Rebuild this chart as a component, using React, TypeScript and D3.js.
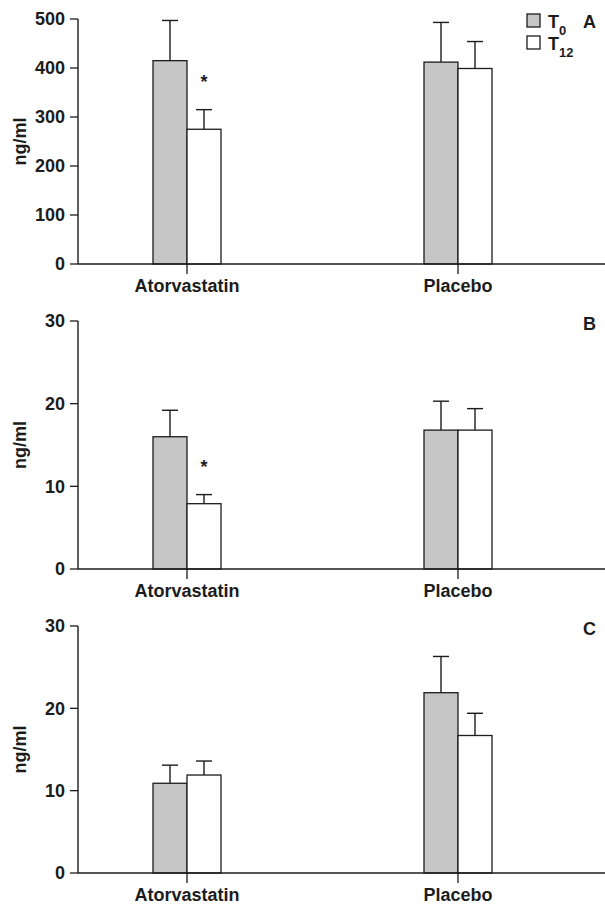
import React, { useEffect, useRef } from "react";
import * as d3 from "d3";

// Data
const categories = ["Atorvastatin", "Placebo"];
const seriesNames = ["T0", "T12"];

const panelLetters = ["A", "B", "C"];
const panelMax = [500, 30, 30];
const panelTicks = [
  [0, 100, 200, 300, 400, 500],
  [0, 10, 20, 30],
  [0, 10, 20, 30],
];

// means per panel: [T0 values by category], [T12 values by category]
const meansT0 = [
  [415, 412],
  [16, 16.8],
  [10.9, 21.9],
];
const meansT12 = [
  [275, 399],
  [7.9, 16.8],
  [11.9, 16.7],
];
const errT0 = [
  [82, 81],
  [3.2, 3.5],
  [2.2, 4.4],
];
const errT12 = [
  [40, 55],
  [1.1, 2.6],
  [1.7, 2.7],
];
// asterisk over Atorvastatin T12 in A and B
const significant = [
  ["Atorvastatin"],
  ["Atorvastatin"],
  [],
];

const WIDTH = 605;
const HEIGHT = 906;
const FONT = "'Liberation Sans', Arial, Helvetica, sans-serif";
const INK = "#1c1c1c";
const GREY = "#c5c6c5";
const fills: Record<string, string> = { T0: GREY, T12: "#ffffff" };

const panelTop = [19, 321, 626];
const panelBottom = [264, 569, 873];
const AXIS_X = 78;

const App = () => {
  const ref = useRef<SVGSVGElement | null>(null);

  useEffect(() => {
    const svg = d3.select(ref.current);
    svg.selectAll("*").remove();

    const x = d3.scalePoint<string>().domain(categories).range([187, 458]);
    const xs = d3.scaleBand<string>().domain(seriesNames).range([-34, 34]).padding(0);

    panelLetters.forEach((letter, p) => {
      const top = panelTop[p];
      const bottom = panelBottom[p];
      const y = d3.scaleLinear().domain([0, panelMax[p]]).range([bottom, top]);
      const g = svg.append("g");

      const rows = categories.flatMap((c, i) => [
        { cat: c, s: "T0", v: meansT0[p][i], e: errT0[p][i] },
        { cat: c, s: "T12", v: meansT12[p][i], e: errT12[p][i] },
      ]);

      // error bars (behind bars)
      const eb = g.append("g").attr("stroke", INK).attr("stroke-width", 1.4);
      rows.forEach(d => {
        const cx = (x(d.cat) as number) + (xs(d.s) as number) + xs.bandwidth() / 2;
        eb.append("line")
          .attr("x1", cx).attr("x2", cx)
          .attr("y1", y(d.v)).attr("y2", y(d.v + d.e));
        eb.append("line")
          .attr("x1", cx - 8).attr("x2", cx + 8)
          .attr("y1", y(d.v + d.e)).attr("y2", y(d.v + d.e));
      });

      // bars
      g.append("g")
        .selectAll("rect")
        .data(rows)
        .join("rect")
        .attr("x", d => (x(d.cat) as number) + (xs(d.s) as number))
        .attr("y", d => y(d.v))
        .attr("width", xs.bandwidth())
        .attr("height", d => bottom - y(d.v))
        .attr("fill", d => fills[d.s])
        .attr("stroke", INK)
        .attr("stroke-width", 1.3);

      // asterisks
      rows
        .filter(d => d.s === "T12" && significant[p].includes(d.cat))
        .forEach(d => {
          const cx = (x(d.cat) as number) + (xs(d.s) as number) + xs.bandwidth() / 2;
          g.append("text")
            .attr("x", cx)
            .attr("y", y(d.v + d.e) - 22)
            .attr("text-anchor", "middle")
            .attr("font-family", FONT)
            .attr("font-weight", "bold")
            .attr("font-size", 18)
            .attr("fill", INK)
            .text("*");
        });

      // x axis line across to the right edge
      g.append("line")
        .attr("x1", AXIS_X).attr("x2", WIDTH)
        .attr("y1", bottom).attr("y2", bottom)
        .attr("stroke", INK).attr("stroke-width", 1.4);

      categories.forEach(c => {
        g.append("line")
          .attr("x1", x(c) as number).attr("x2", x(c) as number)
          .attr("y1", bottom).attr("y2", bottom + 10)
          .attr("stroke", INK).attr("stroke-width", 1.3);
        g.append("text")
          .attr("x", x(c) as number)
          .attr("y", bottom + 28)
          .attr("text-anchor", "middle")
          .attr("font-family", FONT)
          .attr("font-weight", "bold")
          .attr("font-size", 18)
          .attr("fill", INK)
          .text(c);
      });

      // y axis
      g.append("line")
        .attr("x1", AXIS_X).attr("x2", AXIS_X)
        .attr("y1", top).attr("y2", bottom)
        .attr("stroke", INK).attr("stroke-width", 1.4);
      panelTicks[p].forEach(t => {
        g.append("line")
          .attr("x1", AXIS_X - 8).attr("x2", AXIS_X)
          .attr("y1", y(t)).attr("y2", y(t))
          .attr("stroke", INK).attr("stroke-width", 1.3);
        g.append("text")
          .attr("x", AXIS_X - 13)
          .attr("y", y(t))
          .attr("dy", "0.36em")
          .attr("text-anchor", "end")
          .attr("font-family", FONT)
          .attr("font-weight", "bold")
          .attr("font-size", 18)
          .attr("fill", INK)
          .text(t);
      });

      g.append("text")
        .attr("transform", `translate(26,${(top + bottom) / 2}) rotate(-90)`)
        .attr("text-anchor", "middle")
        .attr("font-family", FONT)
        .attr("font-weight", "bold")
        .attr("font-size", 18)
        .attr("fill", INK)
        .text("ng/ml");

      // panel letter
      g.append("text")
        .attr("x", 596)
        .attr("y", top + 9)
        .attr("text-anchor", "end")
        .attr("font-family", FONT)
        .attr("font-weight", "bold")
        .attr("font-size", 18)
        .attr("fill", INK)
        .text(letter);

      // legend, only in A
      if (p === 0) {
        const lg = g.append("g");
        seriesNames.forEach((s, i) => {
          const ly = 14 + i * 22;
          lg.append("rect")
            .attr("x", 527).attr("y", ly)
            .attr("width", 13).attr("height", 13)
            .attr("fill", fills[s])
            .attr("stroke", INK).attr("stroke-width", 1.3);
          const t = lg.append("text")
            .attr("x", 548)
            .attr("y", ly + 13.5)
            .attr("font-family", FONT)
            .attr("font-weight", "bold")
            .attr("font-size", 18)
            .attr("fill", INK);
          t.append("tspan").text("T");
          t.append("tspan")
            .attr("dy", 7)
            .attr("font-size", 13)
            .text(s.slice(1));
        });
      }
    });
  }, []);

  return (
    <svg
      ref={ref}
      width={WIDTH}
      height={HEIGHT}
      style={{ position: "absolute", left: 0, top: 0, background: "#fff" }}
    />
  );
};

export default App;
